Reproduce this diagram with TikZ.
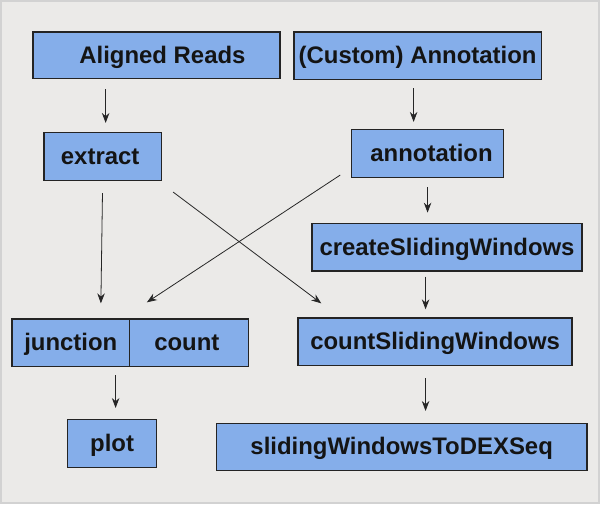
\documentclass[tikz,border=0pt]{standalone}
\usepackage{fontspec}
\setmainfont{Liberation Sans}
\usetikzlibrary{arrows.meta}
\definecolor{bg}{HTML}{EBEAE8}
\definecolor{boxfill}{HTML}{85AEEA}
\definecolor{boxline}{HTML}{242424}
\definecolor{frameline}{HTML}{D2D2D2}
\tikzset{
  stepbox/.style={draw=boxline, fill=boxfill, line width=1.3pt, rectangle, inner sep=0pt,
    text height=18pt, text depth=2pt,
    font=\fontsize{24pt}{28pt}\selectfont\bfseries, text=black!92},
  arr/.style={-{Stealth[length=10pt,width=7.5pt]}, line width=0.8pt, draw=black!85}
}
\begin{document}
\begin{tikzpicture}[x=1pt,y=-1pt]
\fill[bg] (0,0) rectangle (600,504);
\draw[frameline, line width=2pt] (0,0) rectangle (600,504);
\useasboundingbox (0,0) rectangle (600,504);

\node[stepbox, minimum width=248pt, minimum height=47pt] (reads) at (156,54.5) {\hspace*{12pt}Aligned Reads};
\node[stepbox, minimum width=248pt, minimum height=48pt] (custom) at (418,55) {(Custom) Annotation};
\node[stepbox, minimum width=118pt, minimum height=48pt] (extract) at (102,156) {extract\hspace*{5pt}};
\node[stepbox, minimum width=152pt, minimum height=48pt] (annot) at (428,153) {\hspace*{8pt}annotation};
\node[stepbox, minimum width=271pt, minimum height=48pt] (create) at (447.5,247) {createSlidingWindows};
\node[stepbox, minimum width=118pt, minimum height=48pt] (junction) at (70,343) {junction};
\node[stepbox, minimum width=119pt, minimum height=48pt] (count) at (188.5,343) {count\hspace*{4pt}};
\node[stepbox, minimum width=275pt, minimum height=48pt] (csw) at (435.5,342) {countSlidingWindows};
\node[stepbox, minimum width=89pt, minimum height=48pt] (plot) at (111.5,444) {plot};
\node[stepbox, minimum width=372pt, minimum height=47pt] (dex) at (402,447.5) {slidingWindowsToDEXSeq};

\draw[arr, shorten <=10pt, shorten >=9pt] ([xshift=-51pt]reads.south) -- ([xshift=3pt]extract.north);
\draw[arr, shorten <=8pt, shorten >=7pt] ([xshift=-4pt]custom.south) -- ([xshift=-14pt]annot.north);
\draw[arr, shorten <=9pt, shorten >=10pt] (annot.south) -- ([xshift=-19.5pt]create.north);
\draw[arr, shorten <=5pt, shorten >=8pt] ([xshift=-21.5pt]create.south) -- ([xshift=-9.5pt]csw.north);
\draw[arr, shorten <=12pt, shorten >=12pt] ([xshift=-9.5pt]csw.south) -- ([xshift=24pt]dex.north);
\draw[arr, shorten <=8pt, shorten >=11pt] ([xshift=45pt]junction.south) -- ([xshift=3.5pt]plot.north);
\draw[arr, shorten <=12pt, shorten >=15pt] (extract.south) -- ([xshift=30pt]junction.north);
\draw[arr] ([shift={(11pt,-11pt)}]extract.south east) -- ([shift={(24pt,14pt)}]csw.north west);
\draw[arr] ([shift={(-11pt,3pt)}]annot.south west) -- ([shift={(18pt,16pt)}]count.north west);
\end{tikzpicture}
\end{document}
